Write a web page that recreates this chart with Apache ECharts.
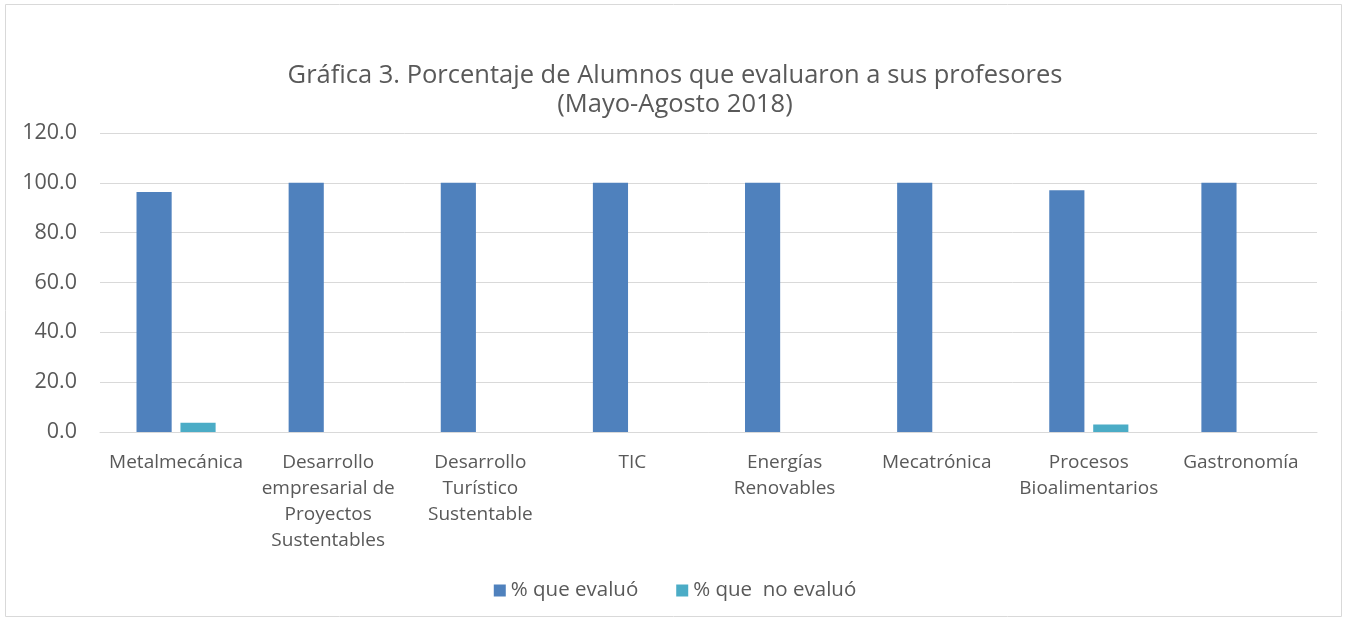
<!DOCTYPE html>
<html>
<head>
<meta charset="utf-8">
<script src="https://cdn.jsdelivr.net/npm/echarts@6/dist/echarts.min.js"></script>
<style>
  html, body { margin: 0; padding: 0; background: #fff; }
  #chart { width: 1350px; height: 623px; }
</style>
</head>
<body>
<div id="chart"></div>
<script>
const categories = [
  'Metalmecánica',
  'Desarrollo\nempresarial de\nProyectos\nSustentables',
  'Desarrollo\nTurístico\nSustentable',
  'TIC',
  'Energías\nRenovables',
  'Mecatrónica',
  'Procesos\nBioalimentarios',
  'Gastronomía'
]
const evaluo = [96.3, 100, 100, 100, 100, 100, 97.0, 100]
const noEvaluo = [3.7, 0, 0, 0, 0, 0, 3.0, 0]
const seriesNames = ['% que evaluó', '% que  no evaluó']

const textColor = '#595959'
const font = 'Open Sans'

const chart = echarts.init(document.getElementById('chart'))

const option = {
  animation: false,
  textStyle: { fontFamily: font },
  title: {
    text: 'Gráfica 3. Porcentaje de Alumnos que evaluaron a sus profesores\n(Mayo-Agosto 2018)',
    left: 'center',
    top: 56,
    textStyle: {
      fontFamily: font,
      fontSize: 25.5,
      fontWeight: 'normal',
      color: textColor,
      lineHeight: 29
    }
  },
  legend: {
    bottom: 17,
    left: 'center',
    itemWidth: 12,
    itemHeight: 12,
    itemGap: 38,
    icon: 'rect',
    textStyle: { fontFamily: font, fontSize: 20.5, color: textColor },
    data: seriesNames
  },
  grid: {
    left: 100,
    right: 33,
    top: 133,
    bottom: 191,
    containLabel: false
  },
  xAxis: {
    type: 'category',
    data: categories,
    axisLine: { lineStyle: { color: '#d9d9d9', width: 1 } },
    axisTick: { show: false },
    axisLabel: {
      interval: 0,
      margin: 18,
      fontFamily: font,
      fontSize: 19,
      color: textColor,
      lineHeight: 26
    }
  },
  yAxis: {
    type: 'value',
    min: 0,
    max: 120,
    interval: 20,
    axisLine: { show: false },
    axisTick: { show: false },
    splitLine: { lineStyle: { color: '#d9d9d9', width: 1 } },
    axisLabel: {
      margin: 23,
      fontFamily: font,
      fontSize: 21.5,
      color: textColor,
      formatter: (v) => v.toFixed(1)
    }
  },
  series: [
    {
      name: seriesNames[0],
      type: 'bar',
      data: evaluo,
      barGap: '25%',
      barCategoryGap: '48%',
      itemStyle: { color: '#4f81bd' }
    },
    {
      name: seriesNames[1],
      type: 'bar',
      data: noEvaluo,
      itemStyle: { color: '#4bacc6' }
    }
  ],
  graphic: [
    {
      type: 'rect',
      silent: true,
      shape: { x: 5.5, y: 4.5, width: 1336, height: 612 },
      style: { fill: 'none', stroke: '#d9d9d9', lineWidth: 1 }
    }
  ]
}

chart.setOption(option)
</script>
</body>
</html>
